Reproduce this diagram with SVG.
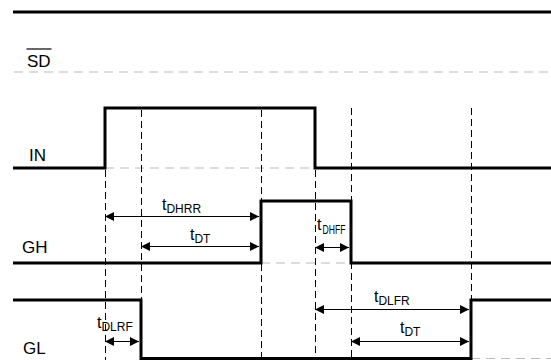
<svg xmlns="http://www.w3.org/2000/svg" width="551" height="360" viewBox="0 0 551 360">
<style>
.sig{fill:none;stroke:#000;stroke-width:3;stroke-linejoin:miter}
.ref{fill:none;stroke:#bbb;stroke-width:1.2;stroke-dasharray:9,6}
.vd{fill:none;stroke:#000;stroke-width:1;stroke-dasharray:7,4}
.arr{stroke:#000;stroke-width:1;marker-start:url(#ah);marker-end:url(#ah)}
.lbl{font-family:"Liberation Sans",Arial,sans-serif;font-size:17px;fill:#000}
.t{font-family:"Liberation Sans",Arial,sans-serif;font-size:16px;fill:#000}
.s{font-family:"Liberation Sans",Arial,sans-serif;font-size:12px;fill:#000}
</style>
<defs>
<marker id="ah" viewBox="0 0 10 10" refX="10" refY="5" markerWidth="10" markerHeight="9" markerUnits="userSpaceOnUse" orient="auto-start-reverse">
<path d="M0,0 L10,5 L0,10 Z" fill="#000"/>
</marker>
</defs>
<g id="SD">
<line class="sig" x1="13" y1="12" x2="551" y2="12"/>
<line class="ref" x1="14" y1="72" x2="551" y2="72"/>
<text class="lbl" x="27" y="66.5">SD</text>
<line x1="26.5" y1="49" x2="51.5" y2="49" stroke="#000" stroke-width="1.2"/>
</g>
<g id="IN">
<line class="ref" x1="105" y1="168" x2="315" y2="168"/>
<polyline class="sig" points="13,168 105,168 105,108 315,108 315,168 551,168"/>
<text class="lbl" x="29" y="161">IN</text>
</g>
<g id="GH">
<line class="ref" x1="261" y1="263" x2="351" y2="263"/>
<polyline class="sig" points="13,263 261,263 261,201 351,201 351,263 551,263"/>
<text class="lbl" x="22" y="253">GH</text>
</g>
<g id="GL">
<line class="ref" x1="471" y1="358.5" x2="551" y2="358.5"/>
<polyline class="sig" points="13,300 141,300 141,358.5 471,358.5 471,300 551,300"/>
<text class="lbl" x="23" y="354">GL</text>
</g>
<g id="connectors">
<line class="vd" x1="105.5" y1="170" x2="105.5" y2="360"/>
<line class="vd" x1="141.5" y1="110" x2="141.5" y2="360"/>
<line class="vd" x1="261.5" y1="110" x2="261.5" y2="360"/>
<line class="vd" x1="315.5" y1="170" x2="315.5" y2="360"/>
<line class="vd" x1="351.5" y1="108" x2="351.5" y2="360"/>
<line class="vd" x1="471.5" y1="108" x2="471.5" y2="360"/>
<line class="arr" x1="105" y1="216.5" x2="259" y2="216.5"/>
<line class="arr" x1="141" y1="246.5" x2="259" y2="246.5"/>
<line class="arr" x1="315" y1="247.5" x2="349" y2="247.5"/>
<line class="arr" x1="105" y1="341.5" x2="139" y2="341.5"/>
<line class="arr" x1="315" y1="309.5" x2="469" y2="309.5"/>
<line class="arr" x1="351" y1="341.5" x2="469" y2="341.5"/>
</g>
<g id="labels">
<text class="t" x="162" y="210">t<tspan class="s" dy="3">DHRR</tspan></text>
<text class="t" x="190" y="240">t<tspan class="s" dy="3">DT</tspan></text>
<text class="t" x="317" y="230">t</text>
<text class="s" x="322.5" y="234" textLength="23" lengthAdjust="spacingAndGlyphs">DHFF</text>
<text class="t" x="97" y="328">t<tspan class="s" dy="3">DLRF</tspan></text>
<text class="t" x="374" y="302">t<tspan class="s" dy="3">DLFR</tspan></text>
<text class="t" x="400" y="333">t<tspan class="s" dy="3">DT</tspan></text>
</g>
</svg>
